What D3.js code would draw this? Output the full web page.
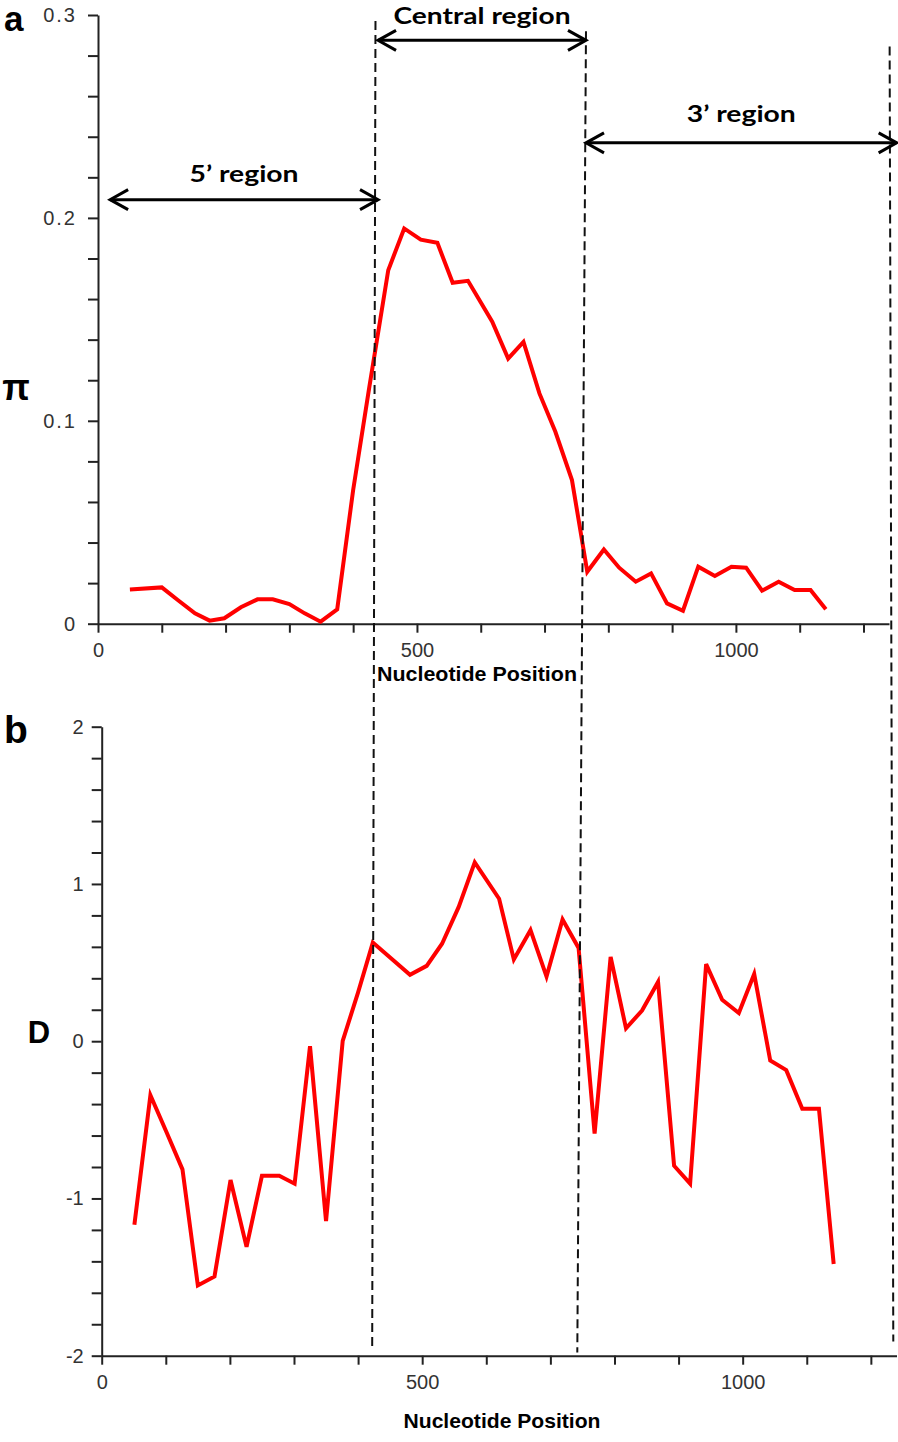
<!DOCTYPE html>
<html>
<head>
<meta charset="utf-8">
<script src="https://cdn.jsdelivr.net/npm/d3@7"></script>
<style>
  body { margin: 0; background: #fff; }
  svg { display: block; }
</style>
</head>
<body>
<div id="chart"></div>
<script>
// nucleotide diversity (pi), panel a
const piPositions = [50, 100, 125, 152, 175, 198, 224, 250, 274, 300, 324, 349, 375, 400, 425, 455, 480, 506,
  532, 556, 580, 618, 643, 667, 692, 717, 743, 767, 793, 817, 843, 867, 892, 917, 941, 967, 993, 1016,
  1041, 1067, 1092, 1117, 1141];
const piValues = [0.0169, 0.0179, 0.0117, 0.0051, 0.0015, 0.0027, 0.0081, 0.0120, 0.0120, 0.0097, 0.0051,
  0.0010, 0.0071, 0.0659, 0.1160, 0.1742, 0.1948, 0.1893, 0.1877, 0.1680, 0.1690, 0.1488, 0.1307, 0.1389,
  0.1135, 0.0946, 0.0708, 0.0256, 0.0366, 0.0276, 0.0207, 0.0248, 0.0100, 0.0064, 0.0281, 0.0235, 0.0281,
  0.0276, 0.0163, 0.0207, 0.0166, 0.0166, 0.0071];

// Tajima's D, panel b
const dPositions = [51, 76, 101, 126, 150, 176, 201, 226, 250, 277, 301, 325, 350, 376, 400, 423, 481, 507,
  531, 557, 582, 620, 643, 669, 694, 719, 744, 769, 794, 818, 843, 868, 893, 918, 943, 968, 994, 1018,
  1043, 1068, 1093, 1119, 1142];
const dValues = [-1.167, -0.343, -0.577, -0.815, -1.553, -1.496, -0.883, -1.308, -0.856, -0.856, -0.906,
  -0.032, -1.144, 0.002, 0.310, 0.627, 0.422, 0.479, 0.620, 0.854, 1.137, 0.906, 0.520, 0.706, 0.411,
  0.774, 0.593, -0.588, 0.536, 0.082, 0.195, 0.377, -0.792, -0.906, 0.490, 0.263, 0.179, 0.427, -0.123,
  -0.184, -0.429, -0.429, -1.417];

const xTicks = [0, 100, 200, 300, 400, 500, 600, 700, 800, 900, 1000, 1100, 1200];
const xTickLabels = ['0', '', '', '', '', '500', '', '', '', '', '1000', '', ''];
const piTicks = [0, 0.02, 0.04, 0.06, 0.08, 0.1, 0.12, 0.14, 0.16, 0.18, 0.2, 0.22, 0.24, 0.26, 0.28, 0.3];
const piTickLabels = ['0', '', '', '', '', '0.1', '', '', '', '', '0.2', '', '', '', '', '0.3'];
const dTicks = [-2, -1.8, -1.6, -1.4, -1.2, -1, -0.8, -0.6, -0.4, -0.2, 0, 0.2, 0.4, 0.6, 0.8, 1, 1.2, 1.4, 1.6, 1.8, 2];
const dTickLabels = ['-2', '', '', '', '', '-1', '', '', '', '', '0', '', '', '', '', '1', '', '', '', '', '2'];

// region boundaries as read in each panel (nucleotide position)
const boundsA = [435, 765, 1241];
const boundsB = [422, 742, 1235];
const regionLabels = ['5\u2019 region', 'Central region', '3\u2019 region'];
const regionStart = [19, 439, 765];
const regionEnd = [439, 765, 1252];

const W = 898, H = 1442;
const svg = d3.select('#chart').append('svg').attr('width', W).attr('height', H);

const xA = d3.scaleLinear().domain([0, 1240]).range([98, 889]);
const yA = d3.scaleLinear().domain([0, 0.3]).range([623.7, 15]);
const xB = d3.scaleLinear().domain([0, 1240]).range([101.7, 896.5]);
const yB = d3.scaleLinear().domain([-2, 2]).range([1355.7, 726.7]);

function styleAxis(g) {
    g.selectAll('path.domain').attr('stroke', '#222').attr('stroke-width', 2);
    g.selectAll('.tick line').attr('stroke', '#222').attr('stroke-width', 2);
    g.selectAll('.tick text')
        .attr('fill', '#333')
        .style('font-family', '"Liberation Sans", Arial, sans-serif')
        .style('font-size', '20px');
}

function drawPanel(x, y, yTicks, yLabels, yPad, ySpacing, positions, values) {
    const xAxis = d3.axisBottom(x)
        .tickValues(xTicks)
        .tickFormat((d, i) => xTickLabels[i])
        .tickSize(9).tickSizeOuter(0).tickPadding(10);
    svg.append('g')
        .attr('transform', `translate(0,${y.range()[0]})`)
        .call(xAxis)
        .call(styleAxis);

    const yAxis = d3.axisLeft(y)
        .tickValues(yTicks)
        .tickFormat((d, i) => yLabels[i])
        .tickSize(10).tickSizeOuter(0).tickPadding(yPad);
    svg.append('g')
        .attr('transform', `translate(${x.range()[0]},0)`)
        .call(yAxis)
        .call(styleAxis)
        .selectAll('.tick text').style('letter-spacing', ySpacing);

    const line = d3.line()
        .x((d, i) => x(positions[i]))
        .y(d => y(d));
    svg.append('path')
        .datum(values)
        .attr('fill', 'none')
        .attr('stroke', '#ff0000')
        .attr('stroke-width', 4)
        .attr('d', line);
}

drawPanel(xA, yA, piTicks, piTickLabels, 11, '2px', piPositions, piValues);
drawPanel(xB, yB, dTicks, dTickLabels, 8, '0px', dPositions, dValues);

// axis titles and panel letters
function label(txt, x, y, size, opts) {
    const t = svg.append('text')
        .attr('x', x).attr('y', y)
        .attr('text-anchor', (opts && opts.anchor) || 'middle')
        .style('font-family', (opts && opts.family) || '"Liberation Sans", Arial, sans-serif')
        .style('font-weight', 'bold')
        .style('font-size', size + 'px')
        .text(txt);
    if (opts && opts.len) t.attr('textLength', opts.len).attr('lengthAdjust', 'spacingAndGlyphs');
    return t;
}
label('Nucleotide Position', 477, 681, 21, { len: 200 });
label('Nucleotide Position', 502, 1428, 21, { len: 197 });
label('a', 4, 31, 35, { anchor: 'start' });
label('b', 4, 743, 39, { anchor: 'start' });
label('\u03c0', 16, 400, 36);
label('D', 39, 1043, 31);

// dashed region boundaries spanning both panels
const dashTop = [0.297, 0.292, 0.2845];
const dashBottom = [-1.94, -1.98, -1.91];
boundsA.forEach((b, i) => {
    svg.append('line')
        .attr('x1', xA(b)).attr('y1', yA(dashTop[i]))
        .attr('x2', xB(boundsB[i])).attr('y2', yB(dashBottom[i]))
        .attr('stroke', '#111')
        .attr('stroke-width', 2)
        .attr('stroke-dasharray', '9,5');
});

// double-headed region arrows
const arrowLevel = [0.209, 0.2875, 0.237];
const labelWidth = [109, 177, 109];
const labelGap = [18, 16, 21];
const head = 18, spread = 10;
regionLabels.forEach((name, i) => {
    const x1 = xA(regionStart[i]), x2 = xA(regionEnd[i]), yy = yA(arrowLevel[i]);
    const g = svg.append('g').attr('stroke', '#000').attr('stroke-width', 3).attr('fill', 'none');
    g.append('line').attr('x1', x1).attr('y1', yy).attr('x2', x2).attr('y2', yy);
    g.append('path').attr('d', `M${x1 + head},${yy - spread}L${x1},${yy}L${x1 + head},${yy + spread}`);
    g.append('path').attr('d', `M${x2 - head},${yy - spread}L${x2},${yy}L${x2 - head},${yy + spread}`);
    label(name, (x1 + x2) / 2, yy - labelGap[i], 23,
        { family: 'Lato, "Open Sans", sans-serif', len: labelWidth[i] });
});
</script>
</body>
</html>
